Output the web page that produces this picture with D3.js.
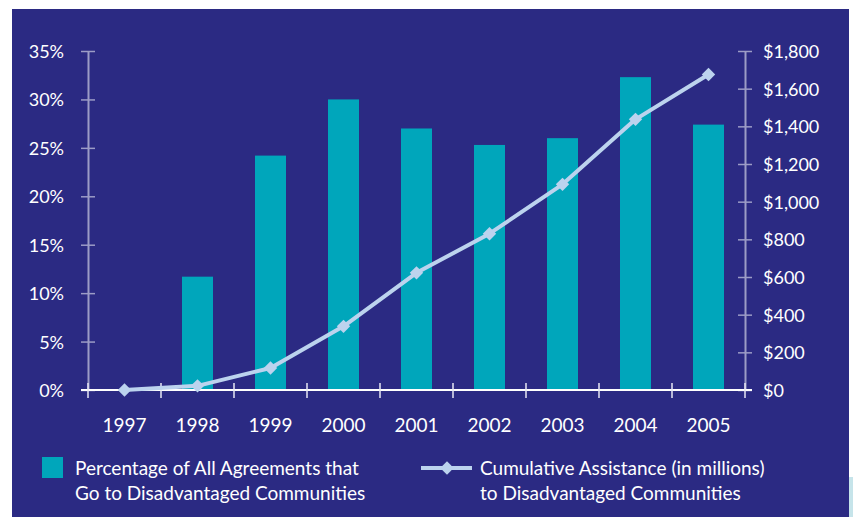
<!DOCTYPE html>
<html>
<head>
<meta charset="utf-8">
<script src="https://cdn.jsdelivr.net/npm/d3@7"></script>
<style>
  html, body { margin: 0; padding: 0; background: #ffffff; }
  svg { display: block; }
  text { font-family: Lato, "Open Sans", sans-serif; fill: #ffffff; }
</style>
</head>
<body>
<svg id="chart" width="853" height="517"></svg>
<script>
// Years on the category axis
const years = ["1997", "1998", "1999", "2000", "2001", "2002", "2003", "2004", "2005"];
// Share of all agreements going to disadvantaged communities (%)
const pctAgreements = [0, 11.7, 24.2, 30.0, 27.0, 25.3, 26.0, 32.3, 27.4];
// Cumulative assistance to disadvantaged communities ($ millions)
const cumulativeAssist = [0, 22, 117, 338, 622, 830, 1092, 1437, 1675];
// Axis tick values
const pctTicks = [0, 5, 10, 15, 20, 25, 30, 35];
const dollarTicks = [0, 200, 400, 600, 800, 1000, 1200, 1400, 1600, 1800];
// Legend labels
const legendBar = ["Percentage of All Agreements that", "Go to Disadvantaged Communities"];
const legendLine = ["Cumulative Assistance (in millions)", "to Disadvantaged Communities"];

const navy = "#2b2a83";
const teal = "#00a6bb";
const lineBlue = "#bcd3ee";
const axisGray = "#9c9cc6";

const svg = d3.select("#chart");

// panel background and corner accent
svg.append("rect").attr("x", 849).attr("y", 477).attr("width", 4).attr("height", 40).attr("fill", "#c6e4ea");
svg.append("rect").attr("x", 12).attr("y", 9).attr("width", 837).attr("height", 508).attr("fill", navy);

const plotL = 88, plotR = 745, plotT = 51, plotB = 390;

const x = d3.scaleBand().domain(years).range([plotL, plotR]).paddingInner(0).paddingOuter(0);
const yPct = d3.scaleLinear().domain([0, 35]).range([plotB, plotT]);
const yUsd = d3.scaleLinear().domain([0, 1800]).range([plotB, plotT]);

const barW = 31;

// bars
svg.append("g").selectAll("rect")
  .data(years.map((y, i) => ({ year: y, v: pctAgreements[i] })).filter(d => d.v > 0))
  .join("rect")
  .attr("x", d => x(d.year) + x.bandwidth() / 2 - barW / 2)
  .attr("y", d => yPct(d.v))
  .attr("width", barW)
  .attr("height", d => plotB - yPct(d.v))
  .attr("fill", teal);

// left axis
const gL = svg.append("g").attr("transform", `translate(${plotL},0)`)
  .call(d3.axisLeft(yPct).tickValues(pctTicks).tickSize(0).tickFormat(d => d + "%"));
gL.select(".domain").attr("stroke", axisGray).attr("stroke-width", 2);
gL.selectAll(".tick line").remove();
gL.selectAll(".tick").append("line").attr("x1", -7).attr("x2", 7).attr("stroke", axisGray).attr("stroke-width", 1.5);
gL.selectAll(".tick text").attr("x", -24).attr("dy", "0.36em")
  .style("font-size", "18px").style("fill", "#ffffff");

// right axis
const gR = svg.append("g").attr("transform", `translate(${plotR},0)`)
  .call(d3.axisRight(yUsd).tickValues(dollarTicks).tickSize(0).tickFormat(d => "$" + d3.format(",")(d)));
gR.select(".domain").attr("stroke", axisGray).attr("stroke-width", 2);
gR.selectAll(".tick line").remove();
gR.selectAll(".tick").append("line").attr("x1", -7).attr("x2", 7).attr("stroke", axisGray).attr("stroke-width", 1.5);
gR.selectAll(".tick text").attr("x", 18).attr("dy", "0.36em")
  .style("font-size", "18px").style("fill", "#ffffff");

// bottom axis
const gB = svg.append("g").attr("transform", `translate(0,${plotB})`);
gB.append("line").attr("x1", 81).attr("x2", 752).attr("stroke", "#ffffff").attr("stroke-width", 2);
const boundaries = years.map(y => x(y)).concat([plotR]);
gB.selectAll("line.tk").data(boundaries).join("line").attr("class", "tk")
  .attr("x1", d => d).attr("x2", d => d).attr("y1", -7).attr("y2", 8)
  .attr("stroke", "#e8e8f4").attr("stroke-width", 1.5);
gB.selectAll("text").data(years).join("text")
  .attr("x", d => x(d) + x.bandwidth() / 2)
  .attr("y", 42)
  .attr("text-anchor", "middle")
  .style("font-size", "19px")
  .text(d => d);

// cumulative line
const pts = years.map((y, i) => [x(y) + x.bandwidth() / 2, yUsd(cumulativeAssist[i])]);
svg.append("path")
  .attr("d", d3.line()(pts))
  .attr("fill", "none").attr("stroke", lineBlue).attr("stroke-width", 4).attr("stroke-linejoin", "round");
const diamond = d3.symbol().type(d3.symbolSquare).size(90);
svg.append("g").selectAll("path").data(pts).join("path")
  .attr("d", diamond)
  .attr("transform", d => `translate(${d[0]},${d[1]}) rotate(45)`)
  .attr("fill", lineBlue);

// legend
const lg = svg.append("g");
lg.append("rect").attr("x", 42).attr("y", 457).attr("width", 21).attr("height", 21).attr("fill", teal);
lg.selectAll("text.lb").data(legendBar).join("text").attr("class", "lb")
  .attr("x", 75).attr("y", (d, i) => 475 + i * 25)
  .style("font-size", "19px").text(d => d);
lg.append("line").attr("x1", 421).attr("x2", 472).attr("y1", 468).attr("y2", 468)
  .attr("stroke", lineBlue).attr("stroke-width", 4);
lg.append("path").attr("d", diamond).attr("transform", "translate(447,468) rotate(45)").attr("fill", lineBlue);
lg.selectAll("text.ll").data(legendLine).join("text").attr("class", "ll")
  .attr("x", 480).attr("y", (d, i) => 475 + i * 25)
  .style("font-size", "19px").text(d => d);
</script>
</body>
</html>
